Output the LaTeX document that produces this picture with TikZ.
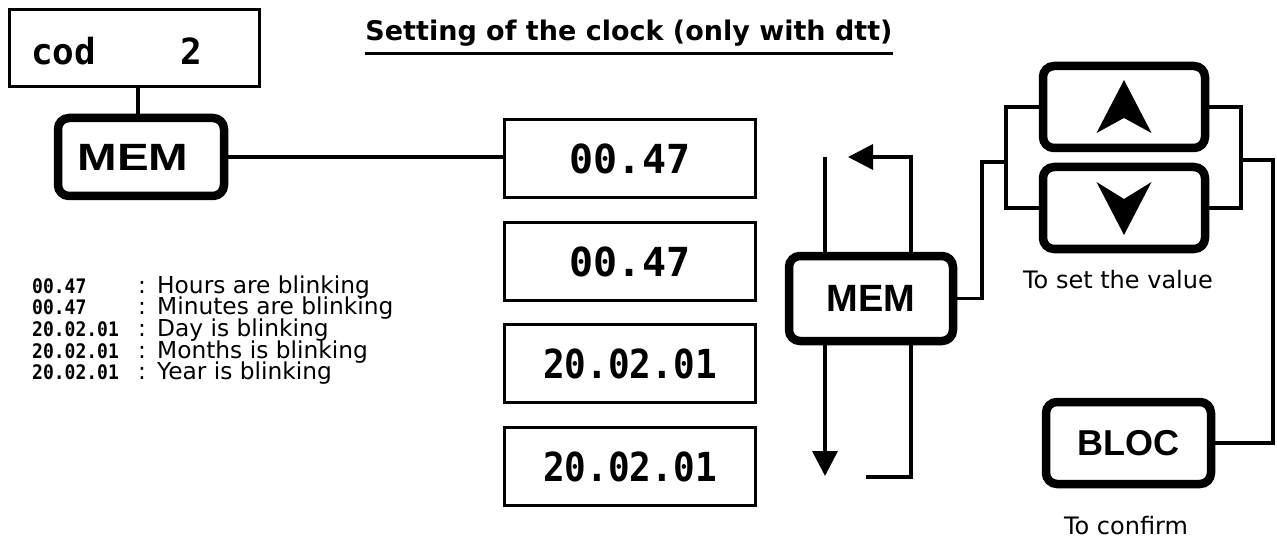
\documentclass[tikz,border=0pt]{standalone}
\usepackage{fontspec}
\usepackage{graphicx}
\setmainfont{DejaVu Sans}
\newfontfamily\keyfont{Liberation Sans}
\newfontfamily\lcdfont{DejaVu Sans Mono}
\usetikzlibrary{arrows.meta}

\tikzset{
  keybox/.style={draw, line width=8.5pt, rounded corners=11pt, fill=white, inner sep=0pt,
    font=\keyfont\bfseries\fontsize{38}{40}\selectfont},
  lcdbox/.style={draw, line width=3pt, fill=white, inner sep=0pt,
    minimum width=251pt, minimum height=78pt,
    font=\lcdfont\bfseries\fontsize{40}{42}\selectfont},
  lcdsmall/.style={anchor=base west, inner sep=0pt,
    font=\lcdfont\bfseries\fontsize{20}{22}\selectfont},
  legendtxt/.style={anchor=base west, inner sep=0pt, font=\fontsize{23.3}{25}\selectfont},
  caption/.style={inner sep=0pt, font=\fontsize{24}{26}\selectfont},
  wire/.style={line width=3.5pt},
  flow/.style={wire, -{Triangle[length=25pt,width=25pt]}},
  keyarrow/.style={fill=black}
}
\newcommand{\datereading}{\scalebox{0.9}[1]{20.02.01}}

\begin{document}
\begin{tikzpicture}[x=1pt, y=-1pt]
\useasboundingbox[fill=white] (0,0) rectangle (1277,540);

% title
\node[inner sep=0pt, font=\bfseries\fontsize{27}{29}\selectfont] (title) at (629,33)
  {Setting of the clock (only with dtt)};
\draw[line width=3.5pt] ([yshift=-13pt]title.base west) -- ([yshift=-13pt]title.base east);

% code display and first MEM key
\node[lcdbox, minimum width=250pt, minimum height=77pt] (cod) at (134.5,48) {};
\node[anchor=base west, inner sep=0pt, font=\lcdfont\bfseries\fontsize{36}{38}\selectfont]
  (codtxt) at (31,65) {cod\hspace{84pt}2};
\node[keybox, minimum width=166pt, minimum height=78pt] (mem1) at (141,157)
  {\scalebox{1.25}[1]{MEM}\kern16pt};
\draw[wire] ([xshift=3.5pt]cod.south) -- ([xshift=-3pt]mem1.north);

% displays
\node[lcdbox] (d1) at (630,158.5) {00.47};
\node[lcdbox] (d2) at (630,261.5) {00.47};
\node[lcdbox] (d3) at (630,363.5) {\datereading};
\node[lcdbox] (d4) at (630,466.5) {\datereading};
\draw[wire] (mem1.east) -- (mem1.east -| d1.west);

% legend
\foreach \r/\t/\y in {00.47/Hours are blinking/293,
                      00.47/Minutes are blinking/314.7,
                      20.02.01/Day is blinking/336.4,
                      20.02.01/Months is blinking/358.1,
                      20.02.01/Year is blinking/379.8}{
  \node[lcdsmall] at (32,\y) {\scalebox{0.9}[1]{\r}};
  \node[legendtxt] at (138,\y) {:};
  \node[legendtxt] at (157,\y) {\t};
}

% scrolling loop
\coordinate (lt) at (825,157);
\coordinate (lb) at (825,476);
\coordinate (rt) at (911,157);
\coordinate (rb) at (911,477);
\coordinate (ab) at (866,477);
\coordinate (at) at (848,157);
\draw[flow] (lt) -- (lb);
\draw[flow] (ab) -- (rb) -- (rt) -- (at);

% second MEM key
\node[keybox, minimum width=164pt, minimum height=85pt] (mem2) at (871,298.5) {MEM};

% up and down keys
\node[keybox, minimum width=162pt, minimum height=82pt] (up) at (1124,107) {};
\node[keybox, minimum width=162pt, minimum height=82pt] (down) at (1124,208) {};
\fill[keyarrow, shift={(up.center)}] (0,-27) -- (27.5,26) -- (0,11) -- (-27.5,26) -- cycle;
\fill[keyarrow, shift={(down.center)}] (0,27) -- (27.5,-26) -- (0,-9) -- (-27.5,-26) -- cycle;
\node[caption] (setval) at (1118,280) {To set the value};

% BLOC key
\node[keybox, minimum width=165pt, minimum height=82pt,
      font=\keyfont\bfseries\fontsize{36}{38}\selectfont] (bloc) at (1128.5,443) {BLOC};
\node[caption] (confirm) at (1126,526) {To confirm};

% key wiring
\coordinate (ja) at (982,162);
\coordinate (jb) at (1006,162);
\coordinate (jc) at (1241,160);
\coordinate (jd) at (1273,160);
\draw[wire] (mem2.east) -| (ja) -- (jb);
\draw[wire] (up.west) -| (jb) |- (down.west);
\draw[wire] (up.east) -| (jc) |- (down.east);
\draw[wire] (jc) -- (jd) |- (bloc.east);
\end{tikzpicture}
\end{document}
